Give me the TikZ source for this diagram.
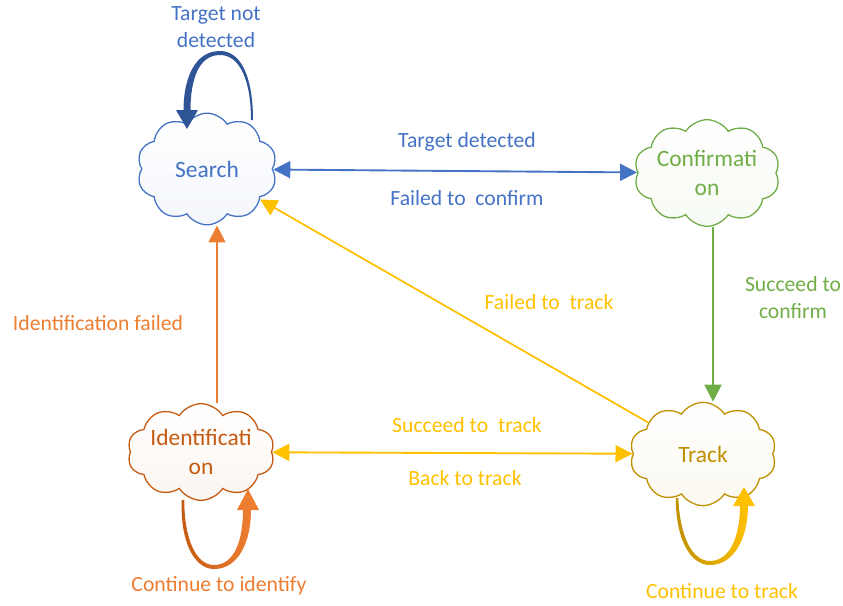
\documentclass[tikz,border=0pt]{standalone}
\usepackage{fontspec}
\setmainfont{Carlito}
\usetikzlibrary{shapes.symbols,arrows.meta}

\definecolor{cblue}{HTML}{4472C4}
\definecolor{cdblue}{HTML}{2F5597}
\definecolor{cgreen}{HTML}{70AD47}
\definecolor{corange}{HTML}{ED7D31}
\definecolor{cdorange}{HTML}{C55A11}
\definecolor{cyellow}{HTML}{FFC000}
\definecolor{cgold}{HTML}{BF9000}

\tikzset{
  cloudstate/.style={cloud, cloud puffs=10, cloud puff arc=115, cloud ignores aspect,
    line width=1.1pt, inner sep=0pt, align=center,
    font=\fontsize{20}{25}\selectfont, draw=#1, top color=white, bottom color=#1!6},
  lbl/.style={font=\fontsize{18.5}{23}\selectfont, align=center, inner sep=0pt},
  link/.style={line width=1.6pt, draw=#1},
  >={Triangle[length=14.5pt,width=14.5pt]}
}

\begin{document}
\begin{tikzpicture}[x=0.03cm, y=-0.03cm]
\useasboundingbox (0,0) rectangle (843,605);

% states
\node[cloudstate=cblue, text=cblue, minimum width=4.2cm, minimum height=3.35cm] (search) at (207,169) {Search};
\node[cloudstate=cgreen, text=cgreen, minimum width=4.3cm, minimum height=3.2cm] (conf) at (707,173) {Confirmati\\on};
\node[cloudstate=cdorange, text=cdorange, minimum width=4.1cm, minimum height=2.9cm] (ident) at (201,452) {Identificati\\on};
\node[cloudstate=cgold, text=cgold, minimum width=4.4cm, minimum height=3.1cm] (track) at (703,454) {Track};

% guide coordinates for the vertical connectors
\coordinate (ox) at (217,0);
\coordinate (gx) at (713,0);

% transitions
\draw[link=cblue, <->] (search) -- (conf);
\draw[link=cgreen, ->] (conf.south -| gx) -- (track.north -| gx);
\draw[link=cyellow, line width=1.5pt, ->] (track) -- (search);
\draw[link=corange, ->] (ident.north -| ox) -- (search.south -| ox);
\draw[link=cyellow, <->] (ident) -- (track);

% self loops (tapered strokes)
\fill[cdblue] (253,120) .. controls (253,79) and (242,51) .. (220,51)
  .. controls (194,51) and (183.5,80) .. (183.5,110) -- (190.5,110)
  .. controls (190.5,81) and (198,55) .. (220,55)
  .. controls (240,55) and (251,81) .. (251,120) -- cycle;
\fill[cdblue] (176,110) -- (198,110) -- (187,129) -- cycle;

\shade[left color=cdorange, right color=corange]
  (181.75,500) .. controls (180,541) and (194,569) .. (214,569)
  .. controls (239,569) and (251,541) .. (251,510) -- (243,510)
  .. controls (243,539) and (235,565) .. (214,565)
  .. controls (196,565) and (184.25,539) .. (184.25,500) -- cycle;
\fill[corange] (237,510) -- (259,510) -- (248,489) -- cycle;

\shade[left color=cgold, right color=cyellow]
  (675.75,498) .. controls (676,541) and (691,565) .. (710,565)
  .. controls (735,565) and (748,536) .. (748,506) -- (740,506)
  .. controls (740,534) and (731,561) .. (710,561)
  .. controls (693,561) and (680.25,539) .. (678.25,498) -- cycle;
\fill[cyellow] (733,506) -- (755,506) -- (744,487) -- cycle;

% labels
\node[lbl, text=cblue] (l1) at (216,27) {Target not\\detected};
\node[lbl, text=cblue] (l2) at (467,142) {Target detected};
\node[lbl, text=cblue] (l3) at (467,198) {Failed to~ confirm};
\node[lbl, text=cgreen] (l4) at (793,298) {Succeed to\\confirm};
\node[lbl, text=cyellow] (l5) at (549,302) {Failed to~ track};
\node[lbl, text=corange] (l6) at (98,323) {Identification failed};
\node[lbl, text=cyellow] (l7) at (467,425) {Succeed to~ track};
\node[lbl, text=cyellow] (l8) at (465,478) {Back to track};
\node[lbl, text=corange] (l9) at (219,586) {Continue to identify};
\node[lbl, text=cyellow] (l10) at (722,591) {Continue to track};
\end{tikzpicture}
\end{document}
